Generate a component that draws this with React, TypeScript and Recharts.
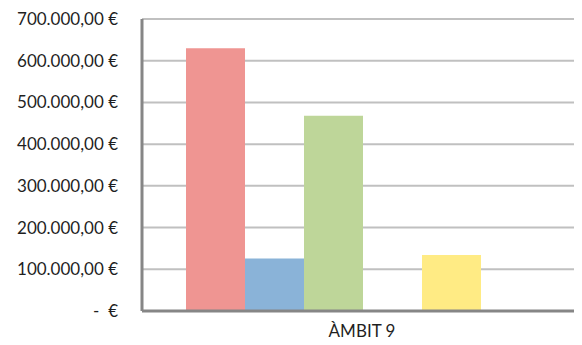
import React from 'react';
import { BarChart, Bar, XAxis, YAxis, CartesianGrid } from 'recharts';

const categories = ['ÀMBIT 9'];
const serie1 = [630000];
const serie2 = [126000];
const serie3 = [468000];
const serie4 = [0];
const serie5 = [134000];
const serie6 = [0];
const yTicks = [0, 100000, 200000, 300000, 400000, 500000, 600000, 700000];

const seriesColors = ['#EF9592', '#8AB3D8', '#BED699', '#B3A2C7', '#FFEB84', '#F9B87A'];

const data = categories.map((c, i) => ({
  name: c,
  s1: serie1[i],
  s2: serie2[i],
  s3: serie3[i],
  s4: serie4[i],
  s5: serie5[i],
  s6: serie6[i],
}));

const formatEuro = (v: number) => {
  if (v === 0) return '-  €';
  const int = Math.floor(v).toString().replace(/\B(?=(\d{3})+(?!\d))/g, '.');
  return `${int},00 €`;
};

const YTick = (props: any) => {
  const { x, y, payload } = props;
  return (
    <text x={x} y={y} dy={6} textAnchor="end" fill="#1f1f1f" fontSize={17} fontFamily="Lato" style={{ whiteSpace: 'pre' }}>
      {formatEuro(payload.value)}
    </text>
  );
};

const XTick = (props: any) => {
  const { x, y, payload } = props;
  return (
    <text x={x} y={y} dy={24} textAnchor="middle" fill="#1f1f1f" fontSize={17} fontFamily="Lato">
      {payload.value}
    </text>
  );
};

const App = () => {
  return (
    <div style={{ margin: -8, width: 582, height: 345, background: '#fff' }}>
      <BarChart
        width={582}
        height={345}
        data={data}
        margin={{ top: 19, right: 0, left: 0, bottom: 0 }}
        barGap={0}
        barCategoryGap="10%"
      >
        <CartesianGrid vertical={false} stroke="#C0C0C0" strokeWidth={2} />
        <XAxis
          dataKey="name"
          height={34}
          stroke="#868686"
          strokeWidth={3}
          tickLine={false}
          tickSize={0}
          tick={<XTick />}
        />
        <YAxis
          width={142}
          domain={[0, 700000]}
          ticks={yTicks}
          interval={0}
          stroke="#868686"
          strokeWidth={3}
          tickLine={false}
          tickSize={0}
          tickMargin={24}
          tick={<YTick />}
        />
        <Bar dataKey="s1" fill={seriesColors[0]} isAnimationActive={false} />
        <Bar dataKey="s2" fill={seriesColors[1]} isAnimationActive={false} />
        <Bar dataKey="s3" fill={seriesColors[2]} isAnimationActive={false} />
        <Bar dataKey="s4" fill={seriesColors[3]} isAnimationActive={false} />
        <Bar dataKey="s5" fill={seriesColors[4]} isAnimationActive={false} />
        <Bar dataKey="s6" fill={seriesColors[5]} isAnimationActive={false} />
      </BarChart>
    </div>
  );
};

export default App;
